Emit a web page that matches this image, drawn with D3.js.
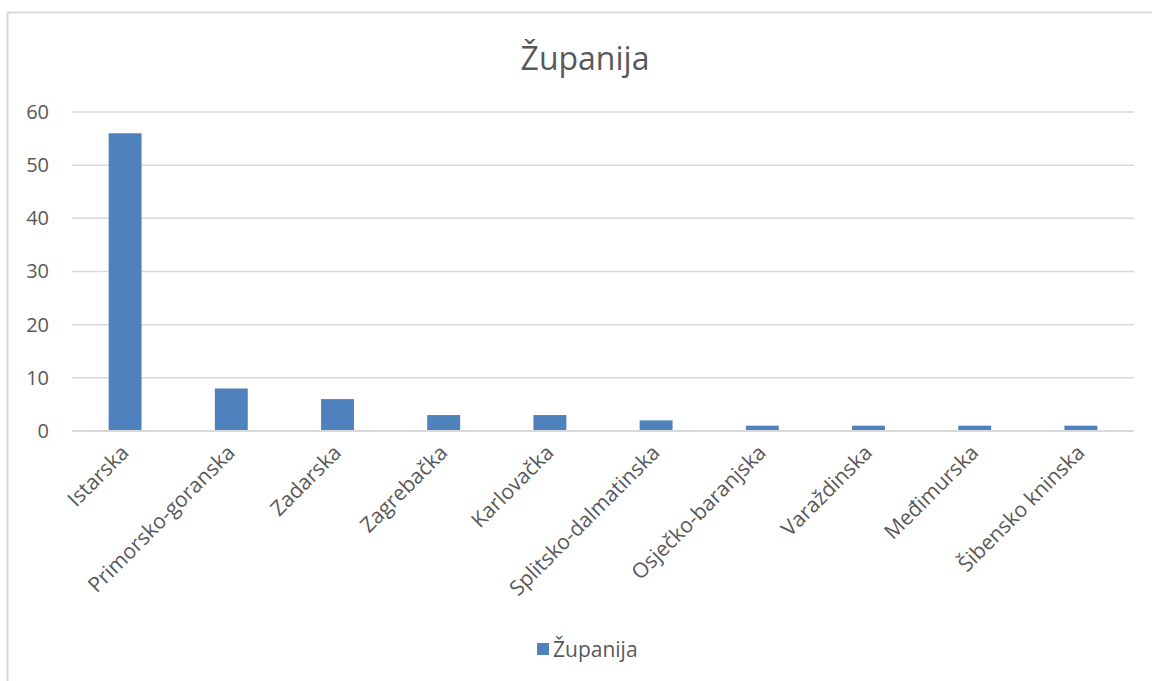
<!DOCTYPE html>
<html><head>
<meta charset="utf-8">
<title>Županija</title>
<script src="https://cdnjs.cloudflare.com/ajax/libs/d3/7.8.5/d3.min.js"></script>
<style>
  body { margin: 0; background: #fff; }
  svg text { font-family: "Open Sans", "Noto Sans", sans-serif; fill: #595959; }
</style>
</head>
<body>
<svg id="chart" width="1152" height="681"></svg>
<script>
  // data
  let categories = ["Istarska", "Primorsko-goranska", "Zadarska", "Zagrebačka", "Karlovačka",
                    "Splitsko-dalmatinska", "Osječko-baranjska", "Varaždinska", "Međimurska", "Šibensko kninska"];
  let values = [56, 8, 6, 3, 3, 2, 1, 1, 1, 1];
  let yTicks = [0, 10, 20, 30, 40, 50, 60];
  let seriesName = "Županija";

  let svg = d3.select("#chart");

  // chart frame (right and bottom edges are cut off in the original)
  svg.append("rect")
      .attr("x", 7.5).attr("y", 12.5)
      .attr("width", 1160).attr("height", 700)
      .style("fill", "none")
      .style("stroke", "#d9d9d9")
      .style("stroke-width", 2);

  let plotLeft = 72, plotRight = 1134, plotTop = 112, plotBottom = 431;

  let x = d3.scaleBand()
      .domain(categories)
      .range([plotLeft, plotRight])
      .paddingInner(0.69)
      .paddingOuter(0.345);

  let y = d3.scaleLinear()
      .domain([0, 60])
      .range([plotBottom, plotTop]);

  // gridlines
  svg.append("g")
      .selectAll("line")
      .data(yTicks)
      .join("line")
      .attr("x1", plotLeft).attr("x2", plotRight)
      .attr("y1", d => y(d)).attr("y2", d => y(d))
      .style("stroke", "#d9d9d9")
      .style("stroke-width", 1.5);

  // y axis labels
  let yAxis = svg.append("g")
      .attr("transform", "translate(" + (plotLeft - 23) + ",0)")
      .call(d3.axisLeft(y).tickValues(yTicks).tickSize(0).tickPadding(0));
  yAxis.select(".domain").remove();
  yAxis.selectAll("text")
      .style("font-size", "20px")
      .style("font-family", "'Open Sans', sans-serif")
      .style("fill", "#595959");

  // bars
  svg.append("g")
      .selectAll("rect")
      .data(values)
      .join("rect")
      .attr("x", (d, i) => x(categories[i]))
      .attr("width", x.bandwidth())
      .attr("y", d => y(d))
      .attr("height", d => y(0) - y(d))
      .style("fill", "#4f81bd");

  // x axis line on top of bars
  svg.append("line")
      .attr("x1", plotLeft).attr("x2", plotRight)
      .attr("y1", y(0)).attr("y2", y(0))
      .style("stroke", "#d9d9d9")
      .style("stroke-width", 2);

  // rotated category labels
  svg.append("g")
      .selectAll("text")
      .data(categories)
      .join("text")
      .attr("transform", d => "translate(" + (x(d) + x.bandwidth() / 2 + 5) + "," + (y(0) + 23) + ") rotate(-45)")
      .attr("text-anchor", "end")
      .style("font-size", "21px")
      .text(d => d);

  // title
  svg.append("text")
      .attr("x", 585).attr("y", 70)
      .attr("text-anchor", "middle")
      .style("font-size", "32px")
      .text(seriesName);

  // legend
  let legend = svg.append("g").attr("transform", "translate(537,643)");
  legend.append("rect")
      .attr("width", 12).attr("height", 12)
      .style("fill", "#4f81bd");
  legend.append("text")
      .attr("x", 16).attr("y", 14)
      .style("font-size", "21px")
      .text(seriesName);
</script>
</body>
</html>
